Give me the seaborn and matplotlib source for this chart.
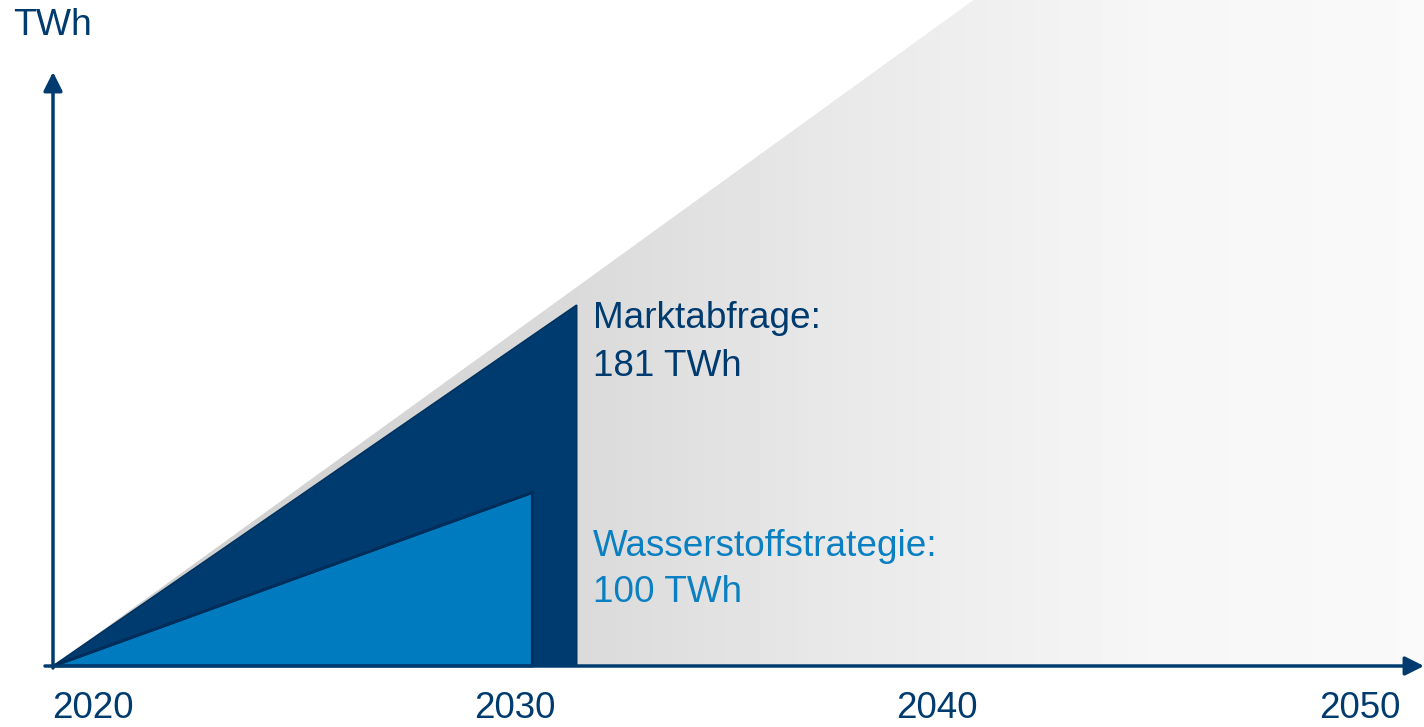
import numpy as np
import matplotlib
matplotlib.use("Agg")
import matplotlib.pyplot as plt
import seaborn as sns

# schematic values (TWh)
years = [2020, 2030, 2040, 2050]
market_years = [2020, 2032.4]        # Marktabfrage wedge
market_values = [0, 181]
strategy_years = [2020, 2031.35]     # Wasserstoffstrategie wedge
strategy_values = [0, 87]
ramp_years = [2020, 2052.5]          # grey ramp behind
ramp_values = [0, 498]
labels = ["Marktabfrage:", "181 TWh"]
labels2 = ["Wasserstoffstrategie:", "100 TWh"]

navy = "#003b70"
blue = "#007bbf"

sns.set_theme(style="white")
plt.rcParams["font.family"] = ["Liberation Sans", "DejaVu Sans"]

fig = plt.figure(figsize=(14.24, 7.27), dpi=100)
ax = fig.add_axes([0, 0, 1, 1])
px_year = 42.23
px_twh = 1.994
ax.set_xlim(2020 - 53 / px_year, 2020 + (1424 - 53) / px_year)
ax.set_ylim(-61 / px_twh, 666 / px_twh)
ax.axis("off")

# grey ramp with horizontal gradient
rx = np.array(ramp_years + [ramp_years[-1]])
ry = np.array(ramp_values + [0])
poly = ax.fill(rx, ry, facecolor="none", edgecolor="none")[0]
gx = np.linspace(ramp_years[0], ramp_years[-1], 400)
shade = np.interp(gx, [2020, 2032.4, 2039, 2046, 2052.5], [0.80, 0.855, 0.915, 0.965, 0.978])
im = ax.imshow(shade[np.newaxis, :], extent=[ramp_years[0], ramp_years[-1], 0, ramp_values[-1]],
               cmap="gray", vmin=0, vmax=1, aspect="auto", zorder=1)
im.set_clip_path(poly)

# dark wedge
mx = market_years + [market_years[-1]]
my = market_values + [0]
ax.fill(mx, my, facecolor=navy, edgecolor="#00325f", lw=1.2, zorder=2)
# light wedge
sx = strategy_years + [strategy_years[-1]]
sy = strategy_values + [0]
ax.fill(sx, sy, facecolor=blue, edgecolor="#002d5a", lw=2, zorder=3)
sns.lineplot(x=strategy_years, y=strategy_values, color="#002d5a", lw=2, ax=ax, zorder=3)

# axes arrows
arrow = dict(arrowstyle="-|>,head_length=0.6,head_width=0.3", color=navy, lw=2.5,
             mutation_scale=19, shrinkA=0, shrinkB=0)
ax.annotate("", xy=(2020, (666 - 72) / px_twh), xytext=(2020, -1), arrowprops=arrow, zorder=5)
ax.annotate("", xy=(2020 + (1424 - 53) / px_year, 0), xytext=(2020 - 8 / px_year, 0),
            arrowprops=arrow, zorder=5)

# year labels
for yr in years:
    ax.text(yr - 1 / px_year, (666 - 718) / px_twh, str(yr), ha="left", va="baseline",
            fontsize=26.5, color=navy)
ax.text(2020 - 40 / px_year, (666 - 35) / px_twh, "TWh", ha="left", va="baseline",
        fontsize=26.8, color=navy)

# annotations
tx = 2020 + (593 - 53) / px_year
ax.text(tx, (666 - 328) / px_twh, labels[0], ha="left", va="baseline", fontsize=26.6, color=navy)
ax.text(tx, (666 - 376) / px_twh, labels[1], ha="left", va="baseline", fontsize=26.6, color=navy)
ax.text(tx, (666 - 556) / px_twh, labels2[0], ha="left", va="baseline", fontsize=26.6, color="#0a7fc1")
ax.text(tx, (666 - 602) / px_twh, labels2[1], ha="left", va="baseline", fontsize=26.6, color="#0a7fc1")

fig.savefig("out.png", dpi=100)
